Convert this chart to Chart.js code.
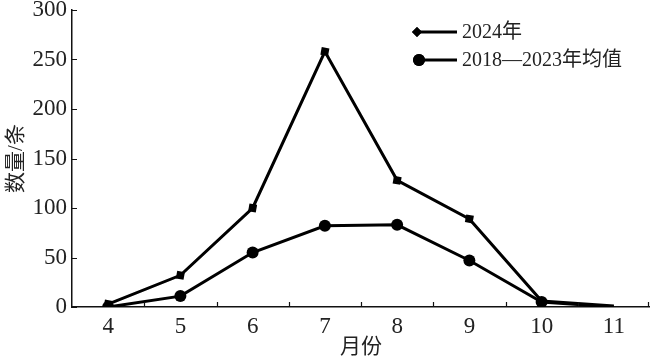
<!DOCTYPE html>
<html>
<head>
<meta charset="utf-8">
<script src="https://cdn.jsdelivr.net/npm/chart.js@4"></script>
<style>
html,body{margin:0;padding:0;background:#fff;}
#wrap{width:650px;height:362px;}
</style>
</head>
<body>
<div id="wrap"><canvas id="c" width="650" height="362"></canvas></div>
<script>
const months = ['4', '5', '6', '7', '8', '9', '10', '11'];
const series2024 = [3, 32, 100, 258, 128, 89, 6, 1];
const seriesAvg = [0, 11, 55, 82, 83, 47, 5, 0];
const seriesNames = ['2024年', '2018—2023年均值'];
const yTicks = [0, 50, 100, 150, 200, 250, 300];
const xTitle = '月份';
const yTitle = '数量/条';

const FONT = "'Liberation Serif', 'Noto Sans CJK SC', serif";
Chart.defaults.font.family = FONT;
Chart.defaults.color = '#222';

const inwardTicks = {
  id: 'inwardTicks',
  afterDraw(chart) {
    const ctx = chart.ctx;
    const xs = chart.scales.x, ys = chart.scales.y;
    const area = chart.chartArea;
    ctx.save();
    ctx.strokeStyle = '#111';
    ctx.lineWidth = 1.2;
    ctx.beginPath();
    ys.ticks.forEach(t => {
      const y = Math.round(ys.getPixelForValue(t.value)) + 0.5;
      ctx.moveTo(area.left, y);
      ctx.lineTo(area.left + 5, y);
    });
    const n = months.length;
    for (let i = 0; i < n; i++) {
      const a = xs.getPixelForValue(i);
      const b = xs.getPixelForValue(i + 1);
      const x = Math.min(Math.round((a + b) / 2) + 0.5, 648.5);
      ctx.moveTo(x, area.bottom);
      ctx.lineTo(x, area.bottom - 5);
    }
    ctx.stroke();
    ctx.restore();
  }
};

const customLegend = {
  id: 'customLegend',
  afterDraw(chart) {
    const ctx = chart.ctx;
    ctx.save();
    const x0 = 415, x1 = 457, tx = 462;
    const rows = [32, 60];
    chart.data.datasets.forEach((ds, i) => {
      const y = rows[i];
      ctx.strokeStyle = '#000';
      ctx.lineWidth = 3;
      ctx.beginPath();
      ctx.moveTo(x0, y);
      ctx.lineTo(x1, y);
      ctx.stroke();
      ctx.fillStyle = '#000';
      Chart.helpers.drawPoint(ctx, {pointStyle: i === 0 ? 'rectRot' : 'circle', radius: i === 0 ? 5 : 6, rotation: 0, borderWidth: 0}, x0 + (i === 0 ? 2 : 4), y);
      ctx.fill();
      ctx.font = "20px " + FONT;
      ctx.fillStyle = '#222';
      ctx.textBaseline = 'middle';
      ctx.fillText(ds.label, tx, y + 1);
    });
    ctx.restore();
  }
};

const lastHidden = (r) => months.map((m, i) => i === months.length - 1 ? 0 : r);

new Chart(document.getElementById('c'), {
  type: 'line',
  data: {
    labels: months,
    datasets: [
      {
        label: seriesNames[0],
        data: series2024,
        borderColor: '#000',
        backgroundColor: '#000',
        borderWidth: 3,
        pointStyle: 'rect',
        pointRadius: lastHidden(5.5),
        pointRotation: 10,
        pointBorderWidth: 0,
        tension: 0
      },
      {
        label: seriesNames[1],
        data: seriesAvg,
        borderColor: '#000',
        backgroundColor: '#000',
        borderWidth: 3,
        pointStyle: 'circle',
        pointRadius: lastHidden(6),
        pointBorderWidth: 0,
        tension: 0
      }
    ]
  },
  options: {
    responsive: false,
    animation: false,
    layout: { autoPadding: false, padding: { left: 0, right: 0, top: 0, bottom: 0 } },
    plugins: { legend: { display: false }, tooltip: { enabled: false } },
    scales: {
      x: {
        type: 'category',
        offset: true,
        grid: { display: false, drawTicks: false },
        border: { display: true, color: '#111', width: 1.5 },
        ticks: { font: { size: 23, lineHeight: 1 }, padding: 8, color: '#222', maxRotation: 0 },
        title: { display: true, text: xTitle, font: { size: 21, lineHeight: 1 }, padding: { top: 0, bottom: 4 }, color: '#222' },
        afterFit(scale) { scale.height = 55; scale.paddingLeft = 0; scale.paddingRight = 0; }
      },
      y: {
        min: 0,
        max: 300,
        afterBuildTicks(scale) { scale.ticks = yTicks.map(v => ({ value: v })); },
        grid: { display: false, drawTicks: false },
        border: { display: true, color: '#111', width: 1.5 },
        ticks: { font: { size: 23, lineHeight: 1 }, padding: 5, color: '#222' },
        title: { display: true, text: yTitle, font: { size: 21, lineHeight: 1 }, padding: { top: 6, bottom: 0 }, color: '#222' },
        afterFit(scale) { scale.width = 72; scale.paddingTop = 10; scale.paddingBottom = 0; }
      }
    }
  },
  plugins: [inwardTicks, customLegend]
});
</script>
</body>
</html>
